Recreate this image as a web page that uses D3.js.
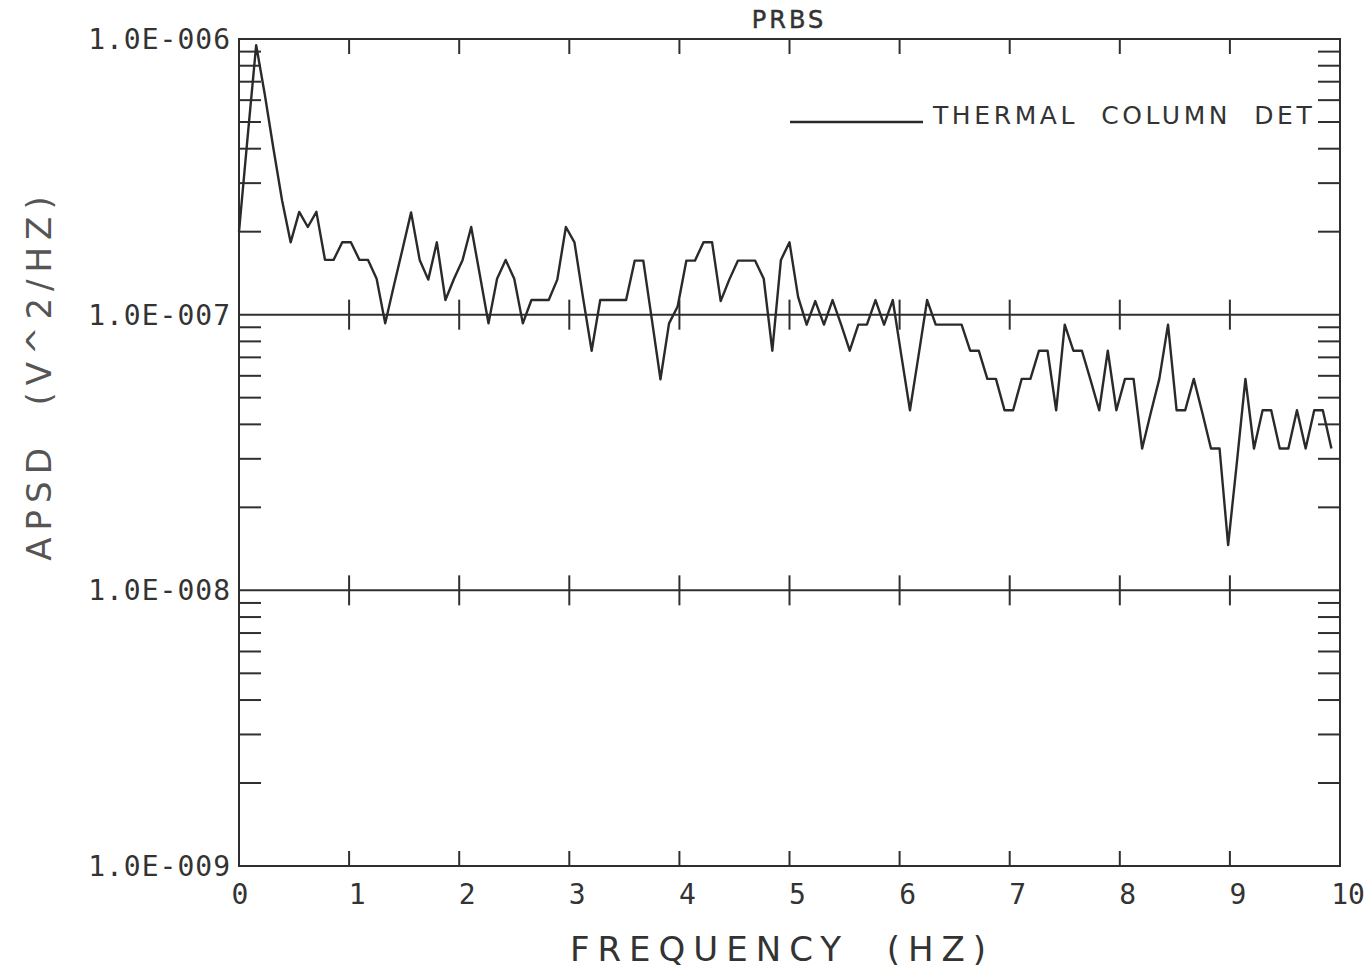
<!DOCTYPE html>
<html>
<head>
<meta charset="utf-8">
<script src="https://cdn.jsdelivr.net/npm/d3@7"></script>
<style>
  html, body { margin: 0; padding: 0; background: #ffffff; }
  svg { display: block; }
  text { white-space: pre; }
</style>
</head>
<body>
<svg id="chart" width="1366" height="968"></svg>
<script>
// ---------------- data ----------------
const chartTitle = "PRBS";
const seriesName = "THERMAL  COLUMN  DET";
const xTitle = "FREQUENCY  (HZ)";
const yTitle = "APSD  (V^2/HZ)";

const xTicks = [0, 1, 2, 3, 4, 5, 6, 7, 8, 9, 10];
const xTickLabels = ["0", "1", "2", "3", "4", "5", "6", "7", "8", "9", "10"];
const yTicks = [1e-9, 1e-8, 1e-7, 1e-6];
const yTickLabels = ["1.0E-009", "1.0E-008", "1.0E-007", "1.0E-006"];
const minorMultipliers = [2, 3, 4, 5, 6, 7, 8, 9];

// frequency (Hz)
const freq = [
  0, 0.078, 0.156, 0.234, 0.313, 0.391, 0.469, 0.547, 0.625, 0.703,
  0.781, 0.859, 0.938, 1.016, 1.094, 1.172, 1.25, 1.328, 1.406, 1.484,
  1.563, 1.641, 1.719, 1.797, 1.875, 1.953, 2.031, 2.109, 2.188, 2.266,
  2.344, 2.422, 2.5, 2.578, 2.656, 2.734, 2.813, 2.891, 2.969, 3.047,
  3.125, 3.203, 3.281, 3.359, 3.438, 3.516, 3.594, 3.672, 3.75, 3.828,
  3.906, 3.984, 4.063, 4.141, 4.219, 4.297, 4.375, 4.453, 4.531, 4.609,
  4.688, 4.766, 4.844, 4.922, 5.0, 5.078, 5.156, 5.234, 5.313, 5.391,
  5.469, 5.547, 5.625, 5.703, 5.781, 5.859, 5.938, 6.016, 6.094, 6.172,
  6.25, 6.328, 6.406, 6.484, 6.563, 6.641, 6.719, 6.797, 6.875, 6.953,
  7.031, 7.109, 7.188, 7.266, 7.344, 7.422, 7.5, 7.578, 7.656, 7.734,
  7.813, 7.891, 7.969, 8.047, 8.125, 8.203, 8.281, 8.359, 8.438, 8.516,
  8.594, 8.672, 8.75, 8.828, 8.906, 8.984, 9.063, 9.141, 9.219, 9.297,
  9.375, 9.453, 9.531, 9.609, 9.688, 9.766, 9.844, 9.922
];

// APSD (V^2/Hz)
const apsd = [
  2.0e-7, 4.4e-7, 9.5e-7, 6.3e-7, 4.0e-7, 2.6e-7, 1.83e-7, 2.36e-7, 2.08e-7, 2.36e-7,
  1.58e-7, 1.58e-7, 1.83e-7, 1.83e-7, 1.58e-7, 1.58e-7, 1.35e-7, 9.3e-8, 1.27e-7, 1.72e-7,
  2.35e-7, 1.58e-7, 1.34e-7, 1.83e-7, 1.13e-7, 1.35e-7, 1.58e-7, 2.08e-7, 1.39e-7, 9.3e-8,
  1.35e-7, 1.58e-7, 1.35e-7, 9.3e-8, 1.13e-7, 1.13e-7, 1.13e-7, 1.34e-7, 2.08e-7, 1.83e-7,
  1.15e-7, 7.4e-8, 1.13e-7, 1.13e-7, 1.13e-7, 1.13e-7, 1.57e-7, 1.57e-7, 9.6e-8, 5.83e-8,
  9.3e-8, 1.07e-7, 1.57e-7, 1.57e-7, 1.83e-7, 1.83e-7, 1.12e-7, 1.34e-7, 1.57e-7, 1.57e-7,
  1.57e-7, 1.35e-7, 7.4e-8, 1.58e-7, 1.83e-7, 1.16e-7, 9.2e-8, 1.12e-7, 9.2e-8, 1.13e-7,
  9.2e-8, 7.4e-8, 9.2e-8, 9.2e-8, 1.13e-7, 9.2e-8, 1.13e-7, 7.1e-8, 4.5e-8, 7.1e-8,
  1.13e-7, 9.2e-8, 9.2e-8, 9.2e-8, 9.2e-8, 7.4e-8, 7.4e-8, 5.85e-8, 5.85e-8, 4.5e-8,
  4.5e-8, 5.85e-8, 5.85e-8, 7.4e-8, 7.4e-8, 4.5e-8, 9.2e-8, 7.4e-8, 7.4e-8, 5.8e-8,
  4.5e-8, 7.4e-8, 4.5e-8, 5.85e-8, 5.85e-8, 3.27e-8, 4.4e-8, 5.85e-8, 9.2e-8, 4.5e-8,
  4.5e-8, 5.85e-8, 4.4e-8, 3.27e-8, 3.27e-8, 1.46e-8, 2.9e-8, 5.85e-8, 3.27e-8, 4.5e-8,
  4.5e-8, 3.27e-8, 3.27e-8, 4.5e-8, 3.27e-8, 4.5e-8, 4.5e-8, 3.27e-8
];

// ---------------- chart ----------------
const svg = d3.select("#chart");
const ink = "#2f2f2f";

const x = d3.scaleLinear().domain([0, 10]).range([239, 1340]);
const y = d3.scaleLog().domain([1e-9, 1e-6]).range([866, 39]);

const x0 = x(0), x1 = x(10), yTop = y(1e-6), yBot = y(1e-9);

// frame
svg.append("rect")
  .attr("x", x0).attr("y", yTop)
  .attr("width", x1 - x0).attr("height", yBot - yTop)
  .attr("fill", "none").attr("stroke", ink).attr("stroke-width", 2);

// interior decade grid lines
const innerDecades = yTicks.filter(v => v > 1e-9 && v < 1e-6);
svg.append("g").selectAll("line").data(innerDecades).join("line")
  .attr("x1", x0).attr("x2", x1)
  .attr("y1", d => y(d)).attr("y2", d => y(d))
  .attr("stroke", ink).attr("stroke-width", 2);

// integer ticks: bottom, top, and crosses on inner grid lines
const innerX = xTicks.filter(v => v > 0 && v < 10);
const tickG = svg.append("g").attr("stroke", ink).attr("stroke-width", 2);
tickG.selectAll(".tb").data(innerX).join("line").attr("class", "tb")
  .attr("x1", d => x(d)).attr("x2", d => x(d))
  .attr("y1", yBot).attr("y2", yBot - 15);
tickG.selectAll(".tt").data(innerX).join("line").attr("class", "tt")
  .attr("x1", d => x(d)).attr("x2", d => x(d))
  .attr("y1", yTop).attr("y2", yTop + 15);
innerDecades.forEach(dec => {
  tickG.append("g").selectAll("line").data(innerX).join("line")
    .attr("x1", d => x(d)).attr("x2", d => x(d))
    .attr("y1", y(dec) - 15).attr("y2", y(dec) + 15);
});

// minor log ticks on left and right
const minorVals = [];
yTicks.slice(0, 3).forEach(dec => minorMultipliers.forEach(m => minorVals.push(dec * m)));
tickG.selectAll(".ml").data(minorVals).join("line").attr("class", "ml")
  .attr("x1", x0).attr("x2", x0 + 22)
  .attr("y1", d => y(d)).attr("y2", d => y(d));
tickG.selectAll(".mr").data(minorVals).join("line").attr("class", "mr")
  .attr("x1", x1).attr("x2", x1 - 22)
  .attr("y1", d => y(d)).attr("y2", d => y(d));

// y tick labels
svg.append("g").selectAll("text").data(yTicks).join("text")
  .attr("x", x0 - 8)
  .attr("y", d => y(d))
  .attr("dy", "0.36em")
  .attr("text-anchor", "end")
  .attr("font-family", "DejaVu Sans Mono, Liberation Mono, monospace")
  .attr("font-size", 28)
  .attr("letter-spacing", 1)
  .attr("fill", "#333")
  .text((d, i) => yTickLabels[i]);

// x tick labels
svg.append("g").selectAll("text").data(xTicks).join("text")
  .attr("x", d => x(d) + (d === 0 ? 1 : 8))
  .attr("y", yBot + 38)
  .attr("text-anchor", "middle")
  .attr("font-family", "DejaVu Sans Mono, Liberation Mono, monospace")
  .attr("font-size", 28)
  .attr("fill", "#333")
  .text((d, i) => xTickLabels[i]);

// data line
const pts = freq.map((f, i) => ({ f, v: apsd[i] }));
svg.append("path")
  .datum(pts)
  .attr("fill", "none")
  .attr("stroke", "#2a2a2a")
  .attr("stroke-width", 2.4)
  .attr("stroke-linejoin", "round")
  .attr("d", d3.line().x(d => x(d.f)).y(d => y(d.v)));

// title
svg.append("text")
  .attr("x", 789).attr("y", 28)
  .attr("text-anchor", "middle")
  .attr("font-family", "DejaVu Sans, sans-serif")
  .attr("font-size", 24)
  .attr("letter-spacing", 3)
  .attr("fill", "#333")
  .attr("stroke", "#333").attr("stroke-width", 0.5)
  .text(chartTitle);

// legend
svg.append("line")
  .attr("x1", 790).attr("x2", 923)
  .attr("y1", 122).attr("y2", 122)
  .attr("stroke", "#2a2a2a").attr("stroke-width", 2.4);
svg.append("text")
  .attr("x", 933).attr("y", 124)
  .attr("font-family", "DejaVu Sans, sans-serif")
  .attr("font-size", 25)
  .attr("letter-spacing", 3.6)
  .attr("fill", "#333")
  .text(seriesName);

// x axis title
svg.append("text")
  .attr("x", 782).attr("y", 961)
  .attr("text-anchor", "middle")
  .attr("font-family", "DejaVu Sans, sans-serif")
  .attr("font-size", 34)
  .attr("letter-spacing", 8)
  .attr("fill", "#333")
  .text(xTitle);

// y axis title
svg.append("text")
  .attr("transform", "translate(51,375) rotate(-90)")
  .attr("text-anchor", "middle")
  .attr("font-family", "DejaVu Sans, sans-serif")
  .attr("font-size", 34)
  .attr("letter-spacing", 7)
  .attr("fill", "#555")
  .text(yTitle);
</script>
</body>
</html>
